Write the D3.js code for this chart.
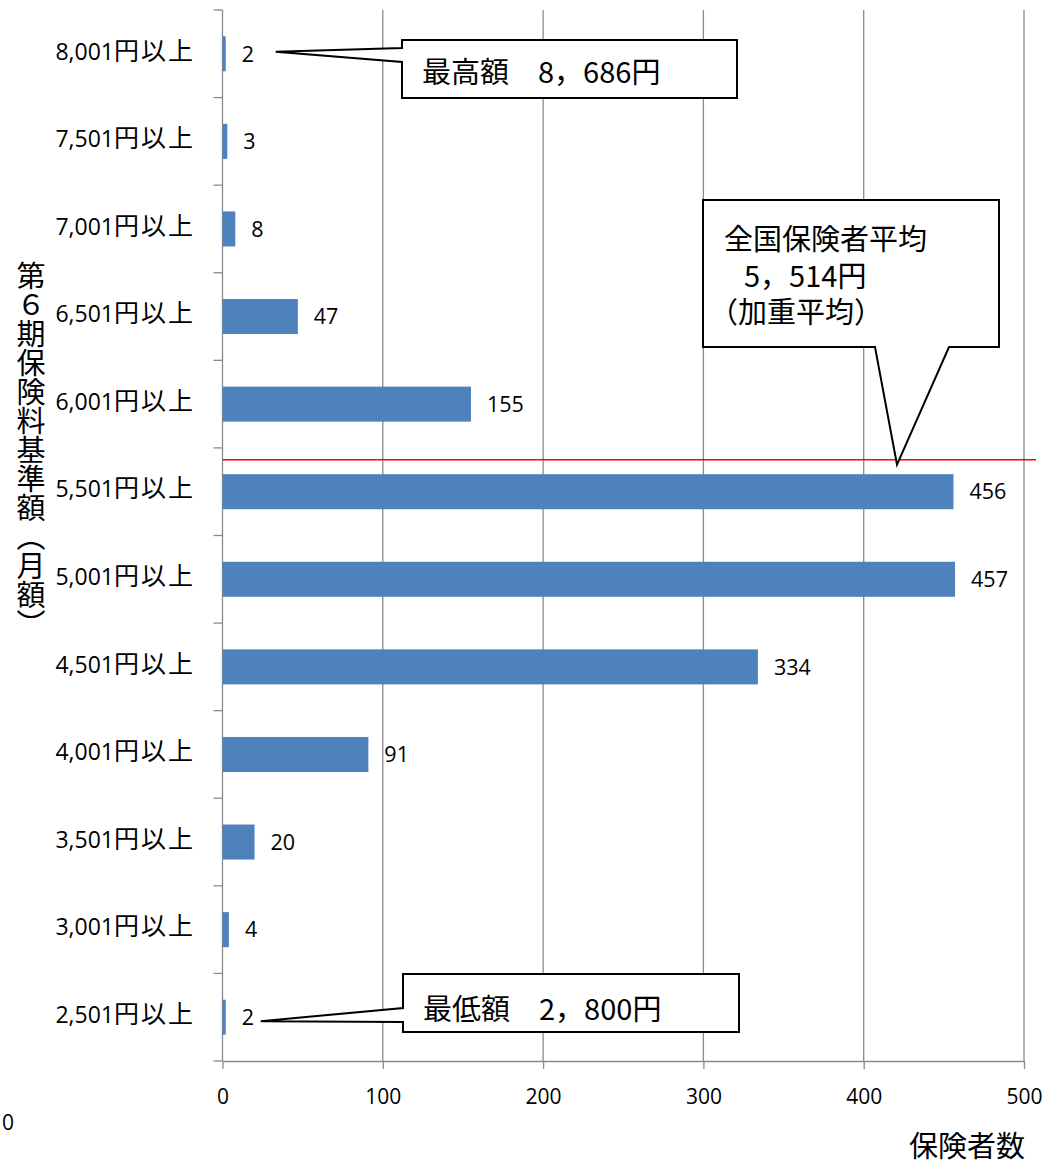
<!DOCTYPE html>
<html>
<head>
<meta charset="utf-8">
<script src="https://cdn.jsdelivr.net/npm/d3@7"></script>
<style>
  html, body { margin: 0; padding: 0; background: #fff; }
  svg { display: block; }
  text { fill: #000; }
</style>
</head>
<body>
<div id="chart"></div>
<script>
// categories (top to bottom) and counts of insurers
var categories = ["8,001円以上", "7,501円以上", "7,001円以上", "6,501円以上", "6,001円以上", "5,501円以上",
                  "5,001円以上", "4,501円以上", "4,001円以上", "3,501円以上", "3,001円以上", "2,501円以上"]
var counts = [2, 3, 8, 47, 155, 456, 457, 334, 91, 20, 4, 2]
var xTicks = [0, 100, 200, 300, 400, 500]

var yTitle = "第６期保険料基準額（月額）"
var xTitle = "保険者数"

var W = 1045, H = 1165
var plot = { left: 222.5, right: 1024, top: 10, bottom: 1061 }
var grey = "#8a8a8a"
var latin = "'Open Sans','Noto Sans CJK JP',sans-serif"
var cjk = "'Noto Sans CJK JP',sans-serif"

var svg = d3.select("#chart").append("svg")
    .attr("width", W)
    .attr("height", H)

var x = d3.scaleLinear()
    .domain([0, 500])
    .range([plot.left, plot.right])

var y = d3.scaleBand()
    .domain(categories)
    .range([plot.top, plot.bottom])
    .paddingInner(0.6)
    .paddingOuter(0.3)

var step = y.step()

// vertical grid lines
svg.append("g")
    .selectAll("line")
    .data(xTicks.slice(1))
    .enter().append("line")
    .attr("x1", d => x(d)).attr("x2", d => x(d))
    .attr("y1", plot.top).attr("y2", plot.bottom)
    .attr("stroke", grey)
    .attr("stroke-width", 1.3)

// x axis
var xAxis = svg.append("g")
    .attr("transform", "translate(0," + plot.bottom + ")")
    .call(d3.axisBottom(x).tickValues(xTicks).tickSize(8).tickSizeOuter(0).tickPadding(20))
xAxis.select(".domain").attr("stroke", grey).attr("stroke-width", 1.3)
xAxis.selectAll(".tick line").attr("stroke", grey).attr("stroke-width", 1.3)
xAxis.selectAll(".tick text")
    .style("font-family", latin)
    .style("font-size", "21px")
    .attr("fill", "#000")

// y axis line and tick marks at band boundaries
svg.append("line")
    .attr("x1", x(0)).attr("x2", x(0))
    .attr("y1", plot.top).attr("y2", plot.bottom)
    .attr("stroke", grey).attr("stroke-width", 1.3)

var boundaries = categories.map(c => y(c) - step * y.paddingOuter())
boundaries.push(plot.bottom)
svg.append("g")
    .selectAll("line")
    .data(boundaries)
    .enter().append("line")
    .attr("x1", x(0) - 9).attr("x2", x(0))
    .attr("y1", d => d).attr("y2", d => d)
    .attr("stroke", grey).attr("stroke-width", 1.3)

// category labels: number part in latin face, yen part in a CJK face
var catText = svg.append("g")
    .selectAll("text")
    .data(categories)
    .enter().append("text")
    .attr("x", 195)
    .attr("y", d => y(d) + y.bandwidth() / 2)
    .attr("dy", "0.36em")
    .attr("text-anchor", "end")
catText.append("tspan")
    .style("font-family", latin)
    .style("font-size", "23px")
    .text(d => d.slice(0, d.indexOf("円")))
catText.append("tspan")
    .style("font-family", cjk)
    .style("font-size", "25px")
    .style("letter-spacing", "2px")
    .text(d => d.slice(d.indexOf("円")))

// bars
svg.append("g")
    .selectAll("rect")
    .data(counts)
    .enter().append("rect")
    .attr("x", x(0))
    .attr("y", (d, i) => y(categories[i]))
    .attr("width", d => x(d) - x(0))
    .attr("height", y.bandwidth())
    .attr("fill", "#4f81bd")

// value labels
svg.append("g")
    .selectAll("text")
    .data(counts)
    .enter().append("text")
    .attr("x", d => x(d) + 16)
    .attr("y", (d, i) => y(categories[i]) + y.bandwidth() / 2)
    .attr("dy", "0.36em")
    .style("font-family", latin)
    .style("font-size", "21.5px")
    .text(d => d)

// national average line (5,514円) just above the 5,501円 band
var avgY = y("5,501円以上") - step * 0.165
svg.append("line")
    .attr("x1", x(0)).attr("x2", 1036)
    .attr("y1", avgY).attr("y2", avgY)
    .attr("stroke", "#ff0000")
    .attr("stroke-width", 1.5)

// callouts
function callout(path) {
    svg.append("path")
        .attr("d", path)
        .attr("fill", "#fff")
        .attr("stroke", "#000")
        .attr("stroke-width", 2)
        .attr("stroke-linejoin", "miter")
}
function label(tx, ty, str) {
    svg.append("text")
        .attr("x", tx).attr("y", ty)
        .style("font-family", cjk)
        .style("font-size", "29px")
        .text(str)
}

// highest
var topC = y(categories[0]) + y.bandwidth() / 2
var tip1 = [x(counts[0]) + 50, topC - 2]
callout("M402,40H737V98H402V62L" + tip1[0] + "," + tip1[1] + "L402,48Z")
label(422, 83, "最高額　8，686円")

// lowest
var lowC = y(categories[11]) + y.bandwidth() / 2
var tip2 = [x(counts[11]) + 35, lowC + 4]
callout("M403,974H739V1032H403V1022L" + tip2[0] + "," + tip2[1] + "L403,1008Z")
label(423, 1020, "最低額　2，800円")

// average
callout("M703,200H999V347H949L897," + (avgY + 5) + "L875,347H703Z")
label(724, 250, "全国保険者平均")
label(744, 287, "5，514円")
label(709, 323, "（加重平均）")

// axis titles
svg.append("text")
    .attr("x", 31)
    .attr("y", 261)
    .style("writing-mode", "vertical-rl")
    .style("text-orientation", "upright")
    .style("font-family", cjk)
    .style("font-size", "29px")
    .text(yTitle)

svg.append("text")
    .attr("x", 1025)
    .attr("y", 1157)
    .attr("text-anchor", "end")
    .style("font-family", cjk)
    .style("font-size", "29px")
    .text(xTitle)

// stray zero at bottom left
svg.append("text")
    .attr("x", 2)
    .attr("y", 1130)
    .style("font-family", latin)
    .style("font-size", "21px")
    .text("0")
</script>
</body>
</html>
